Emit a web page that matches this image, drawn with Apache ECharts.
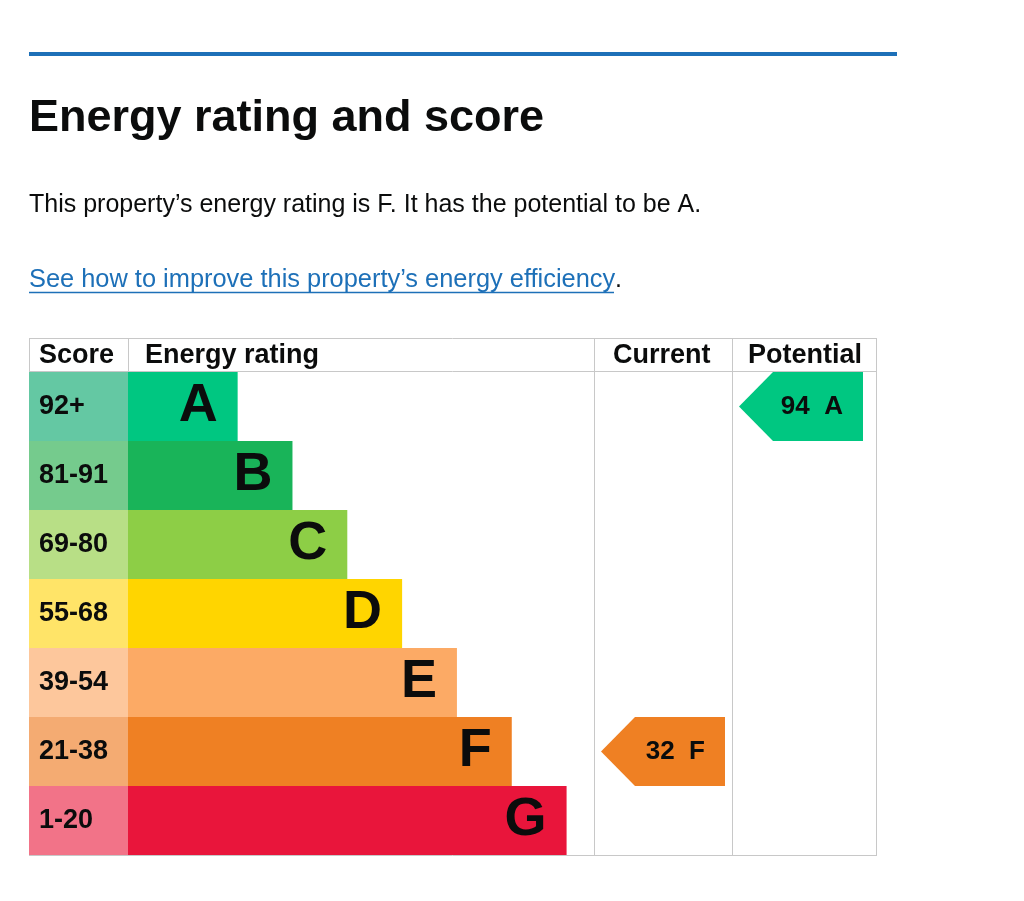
<!DOCTYPE html>
<html>
<head>
<meta charset="utf-8">
<title>Energy rating and score</title>
<script src="https://cdn.jsdelivr.net/npm/echarts@6/dist/echarts.min.js"></script>
<style>
  html, body { margin: 0; padding: 0; background: #fff; }
  #chart { width: 1024px; height: 901px; }
</style>
</head>
<body>
<div id="chart"></div>
<script>
// bands, top to bottom
const bands = ['A', 'B', 'C', 'D', 'E', 'F', 'G'];
const scoreRanges = ['92+', '81-91', '69-80', '55-68', '39-54', '21-38', '1-20'];
// relative bar length for each band in the rating column
const barLength = [2, 3, 4, 5, 6, 7, 8];
const bandColors = ['#00c781', '#19b459', '#8dce46', '#ffd500', '#fcaa65', '#ef8023', '#e9153b'];
const scoreColors = ['#64c8a3', '#75cb8d', '#b8df86', '#ffe468', '#fdc79c', '#f4ab72', '#f27388'];
const headers = ['Score', 'Energy rating', 'Current', 'Potential'];

const currentRating = { score: 32, band: 'F' };
const potentialRating = { score: 94, band: 'A' };

const FONT = "'Liberation Sans', Arial, sans-serif";
const INK = '#0b0c0c';
const BORDER = '#c8c8c8';

const chart = echarts.init(document.getElementById('chart'));

// table geometry
const tTop = 339, hBottom = 372, tBottom = 855;
const cols = [29, 128, 594, 732, 876];

function grid(i) {
    return { left: cols[i], width: cols[i + 1] - cols[i], top: hBottom, height: tBottom - hBottom, show: false };
}
function xAx(i, max) {
    return { type: 'value', gridIndex: i, min: 0, max: max, show: false };
}
function yAx(i) {
    return { type: 'category', gridIndex: i, data: bands, inverse: true, show: false };
}

// arrow marker for current / potential
function arrowSeries(idx, rating) {
    const bi = bands.indexOf(rating.band);
    return {
        type: 'custom',
        xAxisIndex: idx,
        yAxisIndex: idx,
        data: [[0, bi, rating.score]],
        renderItem: function (params, api) {
            const p = api.coord([0, api.value(1)]);
            const h = api.size([0, 1])[1];
            const x0 = p[0] + 7, top = p[1] - h / 2, bot = p[1] + h / 2;
            return {
                type: 'group',
                children: [{
                    type: 'polygon',
                    shape: { points: [[x0, p[1]], [x0 + 34, top], [x0 + 124, top], [x0 + 124, bot], [x0 + 34, bot]] },
                    style: { fill: bandColors[api.value(1)] }
                }, {
                    type: 'text',
                    x: x0 + 104,
                    y: p[1],
                    style: {
                        text: api.value(2) + '  ' + bands[api.value(1)],
                        align: 'right', verticalAlign: 'middle',
                        font: 'bold 26px ' + FONT, fill: INK
                    }
                }]
            };
        }
    };
}

function hline(x1, x2, y) {
    return { type: 'line', shape: { x1: x1, y1: y + 0.5, x2: x2, y2: y + 0.5 }, style: { stroke: BORDER, lineWidth: 1 }, z: 10 };
}
function vline(x, y1, y2) {
    return { type: 'line', shape: { x1: x + 0.5, y1: y1, x2: x + 0.5, y2: y2 }, style: { stroke: BORDER, lineWidth: 1 }, z: 10 };
}
function txt(x, y, s, font, color) {
    return { type: 'text', x: x, y: y, style: { text: s, font: font, fill: color || INK, align: 'left', verticalAlign: 'middle' }, z: 11 };
}

const headerX = [39, 145, 613, 748];

const option = {
    animation: false,
    backgroundColor: '#fff',
    grid: [grid(0), grid(1), grid(2), grid(3)],
    xAxis: [xAx(0, 1), xAx(1, 8.5), xAx(2, 1), xAx(3, 1)],
    yAxis: [yAx(0), yAx(1), yAx(2), yAx(3)],
    series: [
        {
            type: 'bar',
            xAxisIndex: 0, yAxisIndex: 0,
            barCategoryGap: '0%',
            data: scoreRanges.map(function (s, i) {
                return { value: 1, itemStyle: { color: scoreColors[i] } };
            }),
            label: {
                show: true, position: 'insideLeft', distance: 10,
                formatter: function (p) { return scoreRanges[p.dataIndex]; },
                color: INK, fontFamily: FONT, fontWeight: 'bold', fontSize: 27,
                textBorderWidth: 0
            }
        },
        {
            type: 'bar',
            xAxisIndex: 1, yAxisIndex: 1,
            barCategoryGap: '0%',
            data: barLength.map(function (v, i) {
                return { value: v, itemStyle: { color: bandColors[i] } };
            }),
            label: {
                show: true, position: 'insideRight', distance: 20,
                formatter: function (p) { return bands[p.dataIndex]; },
                color: INK, fontFamily: FONT, fontWeight: 'bold', fontSize: 54,
                textBorderWidth: 0
            }
        },
        arrowSeries(2, currentRating),
        arrowSeries(3, potentialRating)
    ],
    graphic: [
        { type: 'rect', shape: { x: 29, y: 52, width: 868, height: 4 }, style: { fill: '#1d70b8' } },
        txt(29, 119, 'Energy rating and score', 'bold 45px ' + FONT),
        txt(29, 205, 'This property\u2019s energy rating is F. It has the potential to be A.', '25px ' + FONT),
        txt(29, 280, 'See how to improve this property\u2019s energy efficiency', '25.4px ' + FONT, '#1d70b8'),
        txt(615, 280, '.', '25px ' + FONT),
        { type: 'line', shape: { x1: 29, y1: 292.5, x2: 614, y2: 292.5 }, style: { stroke: '#1d70b8', lineWidth: 1.5 } },
        // table borders
        hline(cols[0], cols[4], tTop - 1),
        hline(cols[0], cols[4], hBottom - 1),
        hline(cols[0], cols[4], tBottom),
        vline(cols[0], tTop - 1, hBottom),
        vline(cols[1], tTop - 1, hBottom),
        vline(cols[2], tTop - 1, tBottom + 1),
        vline(cols[3], tTop - 1, tBottom + 1),
        vline(cols[4], tTop - 1, tBottom + 1)
    ].concat(headers.map(function (h, i) {
        return txt(headerX[i], 356, h, 'bold 27px ' + FONT);
    }))
};

chart.setOption(option);
</script>
</body>
</html>
